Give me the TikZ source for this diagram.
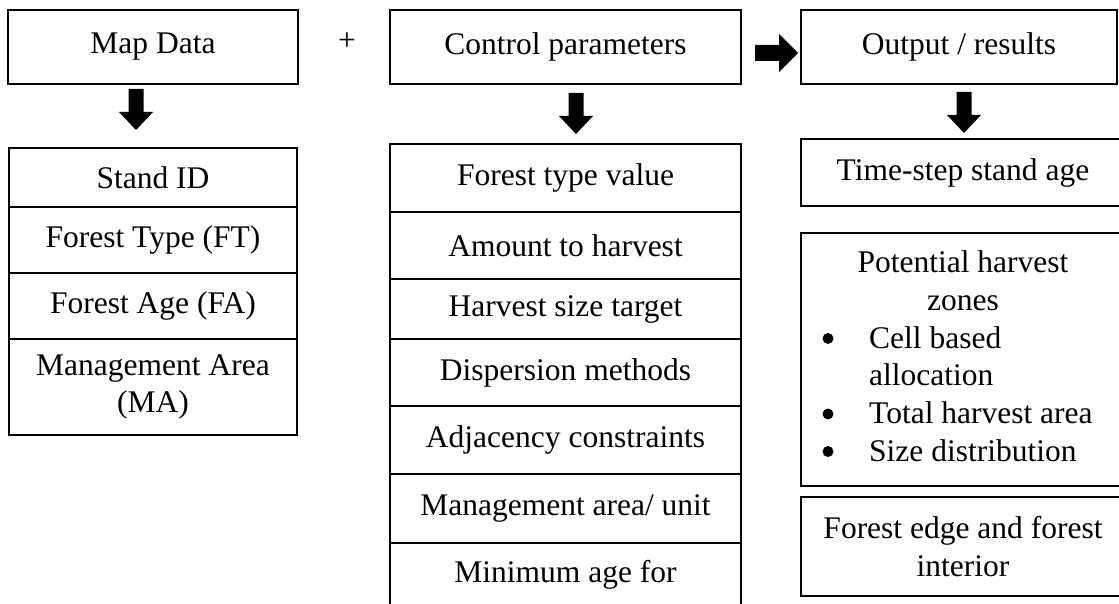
\documentclass[tikz,border=0pt]{standalone}
\usepackage{fontspec}
\setmainfont{Liberation Serif}
\begin{document}
\begin{tikzpicture}[x=1pt,y=-1pt,
  font=\fontsize{31.5}{37.5}\selectfont,
  box/.style={draw, line width=1.1pt, inner sep=0pt, align=center},
  leftcell/.style={box, minimum width=288},
  midcell/.style={box, minimum width=351},
  rightcell/.style={box, minimum width=324},
  bulletdot/.style={circle, fill, inner sep=0pt, minimum size=11},
  downarrow/.pic={\fill (-7.5,0) -- (7.5,0) -- (7.5,23) -- (17,23) -- (0,41) -- (-17,23) -- (-7.5,23) -- cycle;},
  rightarrow/.pic={\fill (0,-8) -- (24,-8) -- (24,-19) -- (43,0) -- (24,19) -- (24,8) -- (0,8) -- cycle;}]
\clip (0,0) rectangle (1119,604);
\fill[white] (0,0) rectangle (1119,604);

% top row
\node[box, minimum width=290, minimum height=74] (map) at (153,47) {Map Data};
\node (plus) at (347,42) {+};
\node[box, minimum width=351, minimum height=74] (ctrl) at (565.5,47) {Control parameters};
\node[box, minimum width=316, minimum height=74] (out) at (959,47) {Output / results};

% arrows
\coordinate (a1) at (136,89);
\coordinate (a2) at (576,93);
\coordinate (a3) at (964,92);
\coordinate (ra) at (755,53);
\pic at (a1) {downarrow};
\pic at (a2) {downarrow};
\pic at (a3) {downarrow};
\pic at (ra) {rightarrow};

% left stack
\node[leftcell, minimum height=59] (sid) at (153,177.5) {Stand ID};
\node[leftcell, minimum height=66] (ft) at (153,240) {Forest Type (FT)};
\node[leftcell, minimum height=66] (fa) at (153,306) {Forest Age (FA)};
\node[leftcell, minimum height=96] (ma) at (153,387) {Management Area\\(MA)};

% middle stack
\node[midcell, minimum height=68] (ftv) at (565.5,178) {Forest type value};
\node[midcell, minimum height=67] (amt) at (565.5,245.5) {Amount to harvest};
\node[midcell, minimum height=60] (hst) at (565.5,309) {Harvest size target};
\node[midcell, minimum height=67] (disp) at (565.5,372.5) {Dispersion methods};
\node[midcell, minimum height=68] (adj) at (565.5,440) {Adjacency constraints};
\node[midcell, minimum height=69] (mgmt) at (565.5,508.5) {Management area/ unit};
\node[midcell, minimum height=64] (minage) at (565.5,575) {Minimum age for};

% right column
\node[rightcell, minimum height=67] (ts) at (963,172.5) {Time-step stand age};
\node[rightcell, minimum height=253] (pot) at (963,359.5) {};
\node[rightcell, minimum height=99] (edge) at (963,546.5) {Forest edge and forest\\interior};

% potential harvest contents
\node[anchor=base, inner sep=0pt] (pott) at (963,272.5) {Potential harvest};
\node[anchor=base, inner sep=0pt] (potz) at (963,310) {zones};
\node[bulletdot] (b1) at (828,338.5) {};
\node[anchor=base west, inner sep=0pt] (l1) at (869,348) {Cell based};
\node[anchor=base west, inner sep=0pt] (l1b) at (869,385.5) {allocation};
\node[bulletdot] (b2) at (828,414) {};
\node[anchor=base west, inner sep=0pt] (l2) at (869,423.5) {Total harvest area};
\node[bulletdot] (b3) at (828,451.5) {};
\node[anchor=base west, inner sep=0pt] (l3) at (869,461) {Size distribution};
\end{tikzpicture}
\end{document}
